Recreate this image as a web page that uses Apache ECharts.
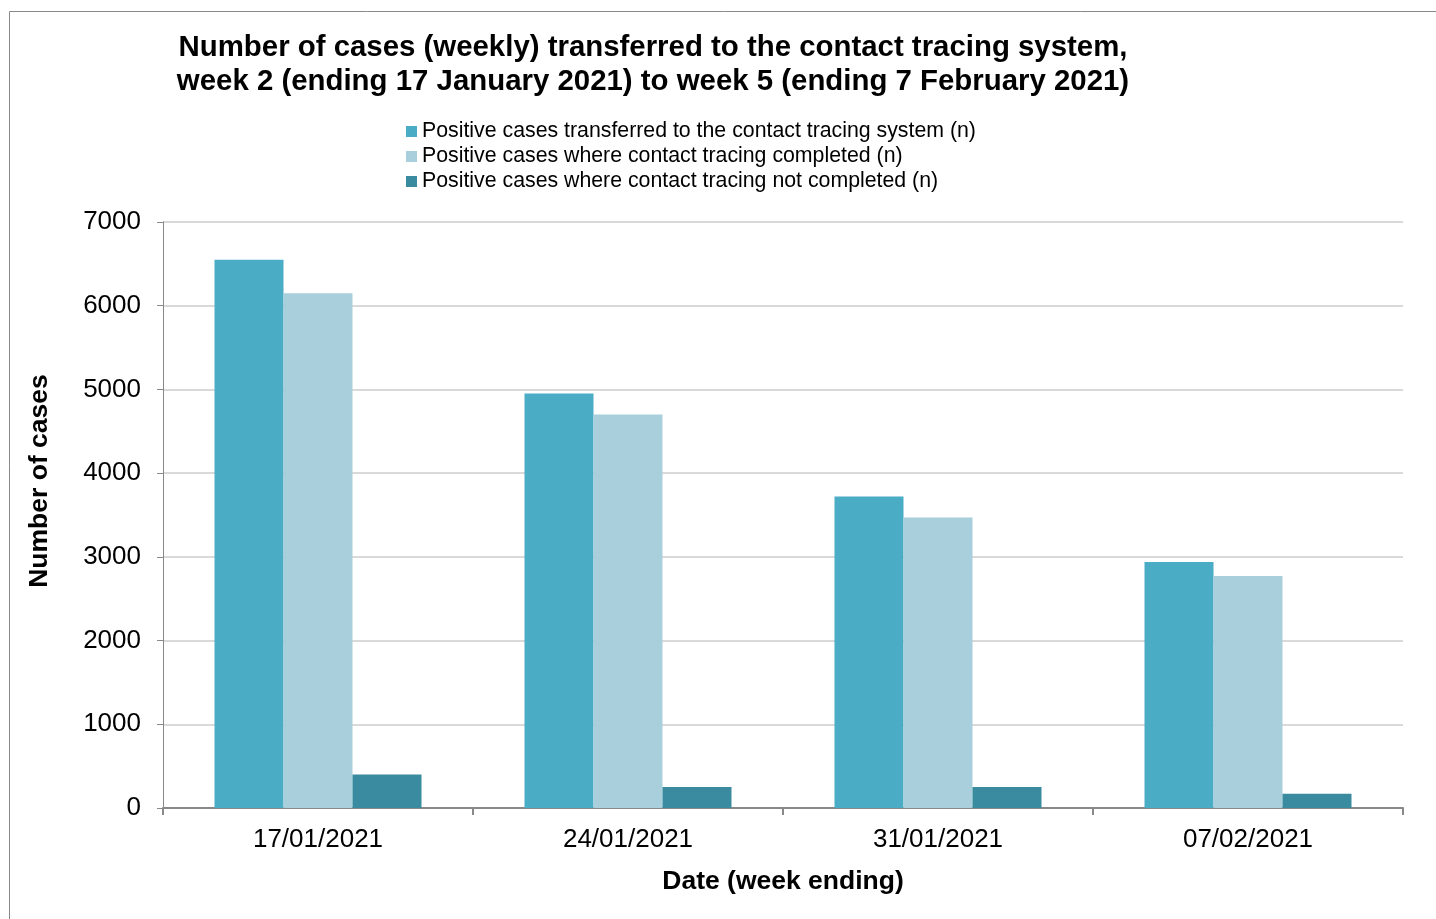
<!DOCTYPE html>
<html>
<head>
<meta charset="utf-8">
<script src="https://cdn.jsdelivr.net/npm/echarts@6/dist/echarts.min.js"></script>
<style>
  html, body { margin: 0; padding: 0; background: #fff; }
  #chart { width: 1436px; height: 919px; }
</style>
</head>
<body>
<div id="chart"></div>
<script>
// week ending dates
const weeks = ['17/01/2021', '24/01/2021', '31/01/2021', '07/02/2021']
const transferred = [6550, 4950, 3720, 2940]
const completed = [6150, 4700, 3470, 2770]
const notCompleted = [400, 250, 250, 170]
const seriesNames = [
  'Positive cases transferred to the contact tracing system (n)',
  'Positive cases where contact tracing completed (n)',
  'Positive cases where contact tracing not completed (n)'
]

const font = 'Liberation Sans, Arial, sans-serif'
const chart = echarts.init(document.getElementById('chart'))

function bar(name, data, color) {
  return {
    name: name,
    type: 'bar',
    data: data,
    barWidth: 69,
    barGap: '0%',
    itemStyle: { color: color },
    animation: false
  }
}

chart.setOption({
  animation: false,
  title: {
    text: 'Number of cases (weekly) transferred to the contact tracing system,\nweek 2 (ending 17 January 2021) to week 5 (ending 7 February 2021)',
    left: 648,
    top: 26,
    textAlign: 'center',
    textStyle: {
      fontFamily: font,
      fontSize: 29.4,
      fontWeight: 'bold',
      color: '#000',
      lineHeight: 34
    }
  },
  legend: {
    orient: 'vertical',
    left: 401,
    top: 116,
    itemWidth: 11,
    itemHeight: 11,
    itemGap: 4,
    icon: 'rect',
    textStyle: { fontFamily: font, fontSize: 21.3, lineHeight: 21, color: '#000', padding: [0, 0, 0, 0] },
    data: seriesNames
  },
  grid: { left: 163, right: 33, top: 222, bottom: 111 },
  xAxis: {
    type: 'category',
    data: weeks,
    name: 'Date (week ending)',
    nameLocation: 'middle',
    nameGap: 60,
    nameTextStyle: { fontFamily: font, fontSize: 26.5, fontWeight: 'bold', color: '#000' },
    axisLine: { lineStyle: { color: '#888', width: 2 } },
    axisTick: { show: true, length: 7, lineStyle: { color: '#888', width: 2 } },
    axisLabel: { fontFamily: font, fontSize: 26, color: '#000', margin: 19 }
  },
  yAxis: {
    type: 'value',
    min: 0,
    max: 7000,
    interval: 1000,
    axisLine: { show: true, lineStyle: { color: '#888', width: 1 } },
    axisTick: { show: true, length: 6, lineStyle: { color: '#888' } },
    axisLabel: { fontFamily: font, fontSize: 26, color: '#000', margin: 22, formatter: v => String(v) },
    splitLine: { lineStyle: { color: '#d9d9d9', width: 2 } }
  },
  graphic: [
    {
      type: 'rect',
      shape: { x: 9.5, y: 11.5, width: 1450, height: 930 },
      style: { fill: null, stroke: '#888', lineWidth: 1 },
      silent: true
    },
    {
      type: 'text',
      x: 40,
      y: 481,
      rotation: Math.PI / 2,
      style: {
        text: 'Number of cases',
        font: 'bold 26.5px ' + font,
        fill: '#000',
        align: 'center',
        verticalAlign: 'middle'
      }
    }
  ],
  series: [
    bar(seriesNames[0], transferred, '#4bacc6'),
    bar(seriesNames[1], completed, '#a9cfdc'),
    bar(seriesNames[2], notCompleted, '#3b8ba0')
  ]
})
</script>
</body>
</html>
